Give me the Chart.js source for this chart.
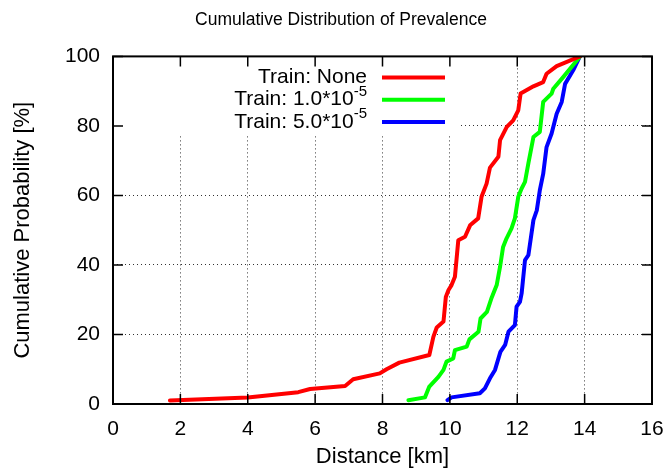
<!DOCTYPE html>
<html>
<head>
<meta charset="utf-8">
<script src="https://cdn.jsdelivr.net/npm/chart.js@4.4.1/dist/chart.umd.min.js"></script>
<style>
    body { margin: 0; background: #fff; }
    #wrap { width: 670px; height: 470px; }
</style>
</head>
<body>
<div id="wrap"><canvas id="cdfChart" width="670" height="470"></canvas></div>
<script>
// Distance [km] / cumulative probability [%]
const distNone = [1.69, 4.0, 5.5, 5.85, 6.89, 7.13, 7.92, 8.12, 8.5, 9.39, 9.51, 9.61, 9.81, 9.88, 9.96,
    10.05, 10.15, 10.25, 10.45, 10.6, 10.84, 10.94, 11.09, 11.19, 11.44, 11.49, 11.69, 11.88, 12.03,
    12.1, 12.48, 12.77, 12.87, 13.17, 13.86];
const probNone = [1.0, 1.9, 3.4, 4.3, 5.2, 7.1, 8.8, 10.0, 11.9, 14.1, 19.3, 22.0, 23.7, 30.8, 32.8,
    34.2, 36.6, 47.1, 48.1, 51.4, 53.4, 59.6, 63.4, 68.0, 71.1, 75.9, 79.7, 81.6, 84.5,
    89.3, 91.4, 92.6, 95.0, 97.2, 100];

const distLow = [8.77, 9.26, 9.39, 9.66, 9.81, 9.9, 10.1, 10.15, 10.5, 10.58, 10.85, 10.91, 11.1, 11.24,
    11.39, 11.49, 11.58, 11.68, 11.83, 11.93, 12.03, 12.13, 12.23, 12.33, 12.48, 12.67, 12.77, 13.02,
    13.07, 13.37, 13.81, 13.86];
const probLow = [1.1, 1.9, 5.0, 7.8, 9.8, 12.2, 13.1, 15.5, 16.5, 18.6, 20.8, 24.6, 26.5, 30.6,
    34.2, 39.5, 45.2, 47.6, 50.5, 53.4, 59.6, 62.0, 63.9, 69.2, 76.8, 78.3, 86.9, 89.3,
    90.7, 94.1, 99.3, 100];

const distHigh = [9.93, 10.05, 10.89, 11.04, 11.19, 11.34, 11.5, 11.64, 11.74, 11.93, 11.98, 12.08, 12.13,
    12.23, 12.33, 12.48, 12.58, 12.67, 12.77, 12.87, 13.02, 13.17, 13.32, 13.42, 13.66, 13.86];
const probHigh = [1.1, 1.9, 3.1, 4.5, 7.4, 9.8, 15.0, 17.0, 20.8, 22.7, 28.0, 29.4, 31.8,
    41.4, 42.8, 52.9, 55.7, 61.5, 66.2, 73.9, 77.8, 83.5, 86.9, 92.1, 96.0, 100];

// Legend text (main part + superscript)
const seriesNames = ["Train: None", "Train: 1.0*10", "Train: 5.0*10"];
const seriesSup = ["", "-5", "-5"];
const seriesColors = ["#ff0000", "#00ff00", "#0000ff"];

const FONT = "'Liberation Sans', Arial, Helvetica, sans-serif";

function toPoints(xs, ys) {
    return xs.map((x, i) => ({ x: x, y: ys[i] }));
}

// gnuplot-like decorations: opaque key box, key, frame and inward ticks
const gnuplotLook = {
    id: "gnuplotLook",
    beforeDatasetsDraw(chart) {
        const ctx = chart.ctx;
        const a = chart.chartArea;
        ctx.save();
        ctx.fillStyle = "#fff";
        ctx.fillRect(a.left, a.top, 345, 78);
        ctx.restore();
    },
    afterDatasetsDraw(chart) {
        const ctx = chart.ctx;
        const a = chart.chartArea;
        const textRight = a.left + 254;
        ctx.save();
        ctx.textBaseline = "middle";
        ctx.textAlign = "right";
        chart.data.datasets.forEach((ds, i) => {
            const y = a.top + 21 + i * 22.3;
            let right = textRight;
            if (seriesSup[i]) {
                ctx.font = "15px " + FONT;
                ctx.fillStyle = "#000";
                ctx.fillText(seriesSup[i], right, y - 8);
                right -= ctx.measureText(seriesSup[i]).width;
            }
            ctx.font = "21px " + FONT;
            ctx.fillStyle = "#000";
            ctx.fillText(seriesNames[i], right, y);

            ctx.strokeStyle = ds.borderColor;
            ctx.lineWidth = 4;
            ctx.beginPath();
            ctx.moveTo(a.left + 269, y);
            ctx.lineTo(a.left + 332, y);
            ctx.stroke();
        });
        ctx.restore();
    },
    afterDraw(chart) {
        const ctx = chart.ctx;
        const a = chart.chartArea;
        const xs = chart.scales.x;
        const ys = chart.scales.y;
        const len = 10;
        ctx.save();
        ctx.strokeStyle = "#000";
        ctx.lineWidth = 1.5;
        ctx.beginPath();
        xs.ticks.forEach((t) => {
            const px = xs.getPixelForValue(t.value);
            ctx.moveTo(px, a.bottom);
            ctx.lineTo(px, a.bottom - len);
            ctx.moveTo(px, a.top);
            ctx.lineTo(px, a.top + len);
        });
        ys.ticks.forEach((t) => {
            const py = ys.getPixelForValue(t.value);
            ctx.moveTo(a.left, py);
            ctx.lineTo(a.left + len, py);
            ctx.moveTo(a.right, py);
            ctx.lineTo(a.right - len, py);
        });
        ctx.stroke();
        ctx.lineWidth = 2;
        ctx.strokeRect(a.left, a.top, a.right - a.left, a.bottom - a.top);
        ctx.restore();
    },
};

function innerGrid(ctx) {
    const s = ctx.scale;
    const v = ctx.tick.value;
    return v === s.min || v === s.max ? "rgba(0,0,0,0)" : "#333";
}

Chart.defaults.color = "#000";
Chart.defaults.font.family = FONT;

const chartCtx = document.getElementById("cdfChart");
new Chart(chartCtx.getContext("2d"), {
    type: "line",
    data: {
        datasets: [
            {
                label: "Train: None",
                data: toPoints(distNone, probNone),
                borderColor: seriesColors[0],
            },
            {
                label: "Train: 1.0*10^-5",
                data: toPoints(distLow, probLow),
                borderColor: seriesColors[1],
            },
            {
                label: "Train: 5.0*10^-5",
                data: toPoints(distHigh, probHigh),
                borderColor: seriesColors[2],
            },
        ],
    },
    options: {
        responsive: false,
        animation: false,
        // left padding only moves the title centre; y axis width makes up for it
        layout: { padding: { left: 30, right: 18, top: 0, bottom: 0 } },
        elements: {
            line: { borderWidth: 4, tension: 0, borderJoinStyle: "round", borderCapStyle: "round" },
            point: { radius: 0 },
        },
        plugins: {
            legend: { display: false },
            tooltip: { enabled: false },
            title: {
                display: true,
                text: "Cumulative Distribution of Prevalence",
                font: { size: 17.5, weight: "normal" },
                padding: { top: 10, bottom: 25.4 },
            },
        },
        scales: {
            x: {
                type: "linear",
                min: 0,
                max: 16,
                afterFit: (s) => {
                    s.height = 66;
                    s.paddingLeft = 0;
                    s.paddingRight = 0;
                },
                ticks: { stepSize: 2, padding: 13, font: { size: 21 }, maxRotation: 0 },
                grid: { color: innerGrid, lineWidth: 1, drawTicks: false },
                border: { display: false, dash: [1, 3] },
                title: {
                    display: true,
                    text: "Distance [km]",
                    font: { size: 22 },
                    padding: { top: 0, bottom: 0 },
                },
            },
            y: {
                min: 0,
                max: 100,
                afterFit: (s) => { s.width = 83; },
                ticks: { stepSize: 20, padding: 13, font: { size: 21 } },
                grid: { color: innerGrid, lineWidth: 1, drawTicks: false },
                border: { display: false, dash: [1, 3] },
                title: {
                    display: true,
                    text: "Cumulative Probability [%]",
                    font: { size: 22 },
                    padding: { top: -20, bottom: 0 },
                },
            },
        },
    },
    plugins: [gnuplotLook],
});
</script>
</body>
</html>
